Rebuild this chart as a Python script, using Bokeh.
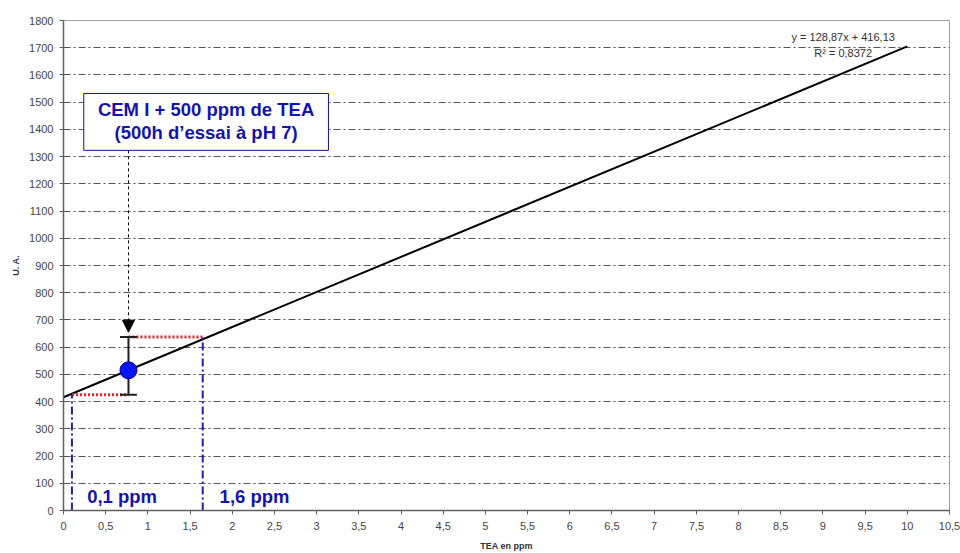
from bokeh.plotting import figure
from bokeh.models import (FixedTicker, Range1d, Arrow, NormalHead, Whisker,
                          ColumnDataSource)
from bokeh.core.properties import value
from bokeh.embed import file_html
from bokeh.resources import INLINE

# ---- data ----
x_ticks = [i * 0.5 for i in range(22)]
x_tick_labels = ["0", "0,5", "1", "1,5", "2", "2,5", "3", "3,5", "4", "4,5", "5", "5,5",
                 "6", "6,5", "7", "7,5", "8", "8,5", "9", "9,5", "10", "10,5"]
y_ticks = list(range(0, 1900, 100))

slope = 128.87
intercept = 416.13
fit_x = [0, 10]
fit_y = [intercept + slope * v for v in fit_x]

point_x = [0.77]
point_y = [515]
err_low = [425]
err_high = [637]

limit_x = [0.1, 1.65]
limit_labels = ["0,1 ppm", "1,6 ppm"]

FONT = "Liberation Sans"
BLUE_TXT = "#1414aa"

p = figure(width=960, height=553, output_backend="svg", toolbar_location=None,
           x_range=Range1d(0, 10.5), y_range=Range1d(0, 1800),
           min_border_left=63, min_border_right=11, min_border_top=20, min_border_bottom=42)
p.background_fill_color = "white"
p.border_fill_color = "white"
p.outline_line_color = "#a0a0a0"
p.outline_line_width = 1

# axes
p.xaxis.ticker = FixedTicker(ticks=x_ticks)
p.xaxis.major_label_overrides = {t: l for t, l in zip(x_ticks, x_tick_labels)}
p.yaxis.ticker = FixedTicker(ticks=y_ticks)
for ax in (p.xaxis[0], p.yaxis[0]):
    ax.axis_line_color = "#606060"
    ax.axis_line_width = 1.5
    ax.major_tick_line_color = "#606060"
    ax.major_tick_out = 4
    ax.major_tick_in = 0
    ax.minor_tick_line_color = None
    ax.major_label_text_font = FONT
    ax.major_label_text_font_size = "11px"
    ax.major_label_text_color = "#454545"
    ax.axis_label_text_font = FONT
    ax.axis_label_text_font_size = "9px"
    ax.axis_label_text_font_style = "bold"
    ax.axis_label_text_color = "#303030"
p.xaxis.axis_label = "TEA en ppm"
p.yaxis.axis_label = "U. A."
p.xaxis.axis_label_standoff = 8
p.yaxis.axis_label_standoff = 5
p.xaxis.major_label_standoff = 7
p.yaxis.major_label_standoff = 6

# grid
p.xgrid.grid_line_color = None
p.ygrid.grid_line_color = "#555555"
p.ygrid.grid_line_dash = "7 3 2 3"
p.ygrid.grid_line_width = 1

# regression line
p.line(fit_x, fit_y, line_color="black", line_width=2)

# red dotted projection lines
p.line([limit_x[0], point_x[0]], [err_low[0], err_low[0]], line_color="#e02020",
       line_width=3, line_dash="2 2")
p.line([point_x[0], limit_x[1]], [err_high[0], err_high[0]], line_color="#e02020",
       line_width=3, line_dash="2 2")

# blue dash-dot verticals
p.line([limit_x[0], limit_x[0]], [0, err_low[0]], line_color="#2020b0", line_width=2,
       line_dash="8 3 2 3")
p.line([limit_x[1], limit_x[1]], [0, err_high[0]], line_color="#2020b0", line_width=2,
       line_dash="8 3 2 3")

# error bar
src = ColumnDataSource(dict(x=point_x, y=point_y, lo=err_low, hi=err_high))
p.add_layout(Whisker(source=src, base="x", lower="lo", upper="hi", dimension="height",
                     line_color="#202020", line_width=2,
                     upper_head=None, lower_head=None))
p.segment(x0=[point_x[0] - 0.1] * 2, x1=[point_x[0] + 0.1] * 2, y0=[err_low[0], err_high[0]],
          y1=[err_low[0], err_high[0]], line_color="#202020", line_width=2)
p.scatter("x", "y", source=src, size=17, fill_color="#0a14f0", line_color="#0000a0",
          line_width=1)

# annotation box
box_left, box_right, box_bottom, box_top = 0.24, 3.14, 1323, 1532
p.quad(left=[box_left], right=[box_right], bottom=[box_bottom], top=[box_top],
       fill_color="white", line_color="#1010a0", line_width=1)
p.text(x=[(box_left + box_right) / 2] * 2, y=[1472, 1387],
       text=["CEM I + 500 ppm de TEA", "(500h d\u2019essai \u00e0 pH 7)"],
       text_font=value(FONT), text_font_size="18.5px", text_font_style="bold",
       text_color=BLUE_TXT, text_align="center", text_baseline="middle")

# dashed arrow
p.add_layout(Arrow(end=NormalHead(size=12, fill_color="black", line_color="black"),
                   x_start=point_x[0], y_start=box_bottom, x_end=point_x[0], y_end=655,
                   line_color="black", line_width=1, line_dash="3 3"))

# limit labels
p.text(x=[0.28, 1.85], y=[50, 50], text=limit_labels,
       text_font=value(FONT), text_font_size="18.5px", text_font_style="bold",
       text_color=BLUE_TXT, text_align="left", text_baseline="middle")

# equation
p.text(x=[9.24, 9.24], y=[1738, 1679],
       text=["y = 128,87x + 416,13", "R\u00b2 = 0,8372"],
       text_font=value(FONT), text_font_size="11px",
       text_color="#303030", text_align="center", text_baseline="middle")

open("out.html", "w").write(file_html(p, INLINE))
